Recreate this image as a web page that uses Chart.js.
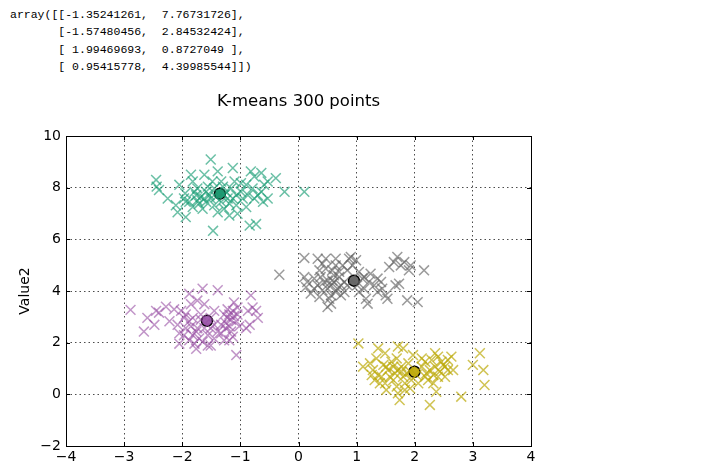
<!DOCTYPE html>
<html>
<head>
<meta charset="utf-8">
<script src="https://cdn.jsdelivr.net/npm/chart.js@4.4.1/dist/chart.umd.min.js"></script>
<style>
  body { margin: 0; background: #fff; }
  #wrap { position: relative; width: 710px; height: 470px; }
  #arr {
    position: absolute; left: 10px; top: 6px; margin: 0;
    font-family: "Liberation Mono", "DejaVu Sans Mono", monospace;
    font-size: 11.5px; line-height: 17.3px; color: #000;
  }
  canvas { position: absolute; left: 0; top: 0; }
</style>
</head>
<body>
<div id="wrap">
<pre id="arr">array([[-1.35241261,  7.76731726],
       [-1.57480456,  2.84532424],
       [ 1.99469693,  0.8727049 ],
       [ 0.95415778,  4.39985544]])</pre>
<canvas id="kmeansChart" width="710" height="470"></canvas>
</div>
<script>
// Datos de los clusters
const greenX = [-1.51, -2.45, -2.44, -2.40, -2.25, -2.11, -2.08, -1.94, -2.05, -1.97, -1.85, -1.82, -1.76, -1.71, -1.62, -1.59, -1.51, -1.45, -1.39, -1.33,
    -1.28, -1.19, -1.13, -1.10, -1.07, -1.05, -0.90, -0.82, -0.76, -0.70, -0.61, -0.64, -0.53, -0.39, -0.24, 0.10, -0.84, -0.73, -1.47, -1.79,
    -1.68, -1.88, -1.74, -1.56, -1.25, -1.22, -1.16, -0.99, -0.96, -0.87, -0.79, -0.76, -1.48, -1.39, -1.33, -1.65, -0.64, -1.74, -1.59, -1.95,
    -1.07, -1.94, -1.53, -1.45, -1.30, -1.62, -1.13, -0.99, -1.82, -0.59, -1.28, -1.42, -1.19, -0.90, -0.53];
const greenY = [9.09, 8.30, 8.04, 7.91, 7.58, 7.32, 7.05, 6.86, 8.11, 7.58, 8.50, 8.24, 7.71, 7.38, 8.50, 7.84, 7.58, 7.32, 8.63, 8.24,
    7.18, 6.92, 8.76, 8.24, 7.71, 6.99, 8.11, 8.63, 8.43, 7.71, 7.45, 8.57, 8.24, 8.37, 7.84, 7.84, 6.53, 6.59, 6.33, 7.84,
    7.64, 7.45, 7.97, 8.04, 7.84, 7.58, 7.97, 7.84, 7.58, 7.71, 7.97, 7.58, 8.24, 7.05, 7.45, 7.18, 7.84, 7.51, 7.45, 7.78,
    7.32, 7.45, 7.71, 7.97, 8.04, 7.58, 7.58, 8.17, 7.25, 8.11, 7.71, 7.64, 7.38, 7.25, 7.58];

const purpleX = [-2.89, -2.66, -2.60, -2.48, -2.45, -2.40, -2.28, -2.22, -2.14, -2.08, -2.05, -2.02, -1.97, -1.94, -1.88, -1.85, -1.88, -1.82, -1.79, -1.76,
    -1.74, -1.68, -1.65, -1.62, -1.56, -1.51, -1.45, -1.39, -1.39, -1.33, -1.28, -1.25, -1.22, -1.19, -1.16, -1.13, -1.11, -1.11, -1.07, -1.05,
    -1.13, -1.19, -1.07, -0.90, -0.84, -0.82, -0.79, -0.73, -0.70, -0.87, -2.05, -1.85, -1.76, -1.71, -1.65, -1.62, -1.45, -1.33, -1.51, -1.82,
    -1.97, -1.02, -1.05, -1.74, -1.51, -1.94, -1.28, -1.22, -1.45, -1.88, -1.68, -1.56, -1.16, -1.25, -1.19];
const purpleY = [3.27, 2.43, 2.96, 2.69, 3.23, 3.16, 3.39, 2.83, 3.29, 2.69, 2.36, 3.23, 2.96, 2.56, 3.89, 3.49, 2.83, 2.29, 1.96, 1.76,
    2.56, 3.09, 4.09, 3.49, 2.29, 2.56, 3.23, 4.03, 2.43, 2.69, 3.09, 2.56, 2.96, 3.09, 2.89, 3.23, 3.03, 3.56, 2.83, 3.09,
    2.23, 2.09, 1.52, 2.56, 2.69, 3.83, 3.36, 3.23, 2.96, 3.23, 1.96, 2.63, 2.43, 2.16, 2.03, 2.56, 2.16, 2.36, 1.89, 2.96,
    2.29, 2.63, 3.36, 3.63, 2.96, 3.09, 2.09, 3.29, 2.69, 2.09, 2.89, 1.89, 2.43, 2.76, 2.63];

const grayX = [-0.33, 0.10, 0.10, 0.15, 0.13, 0.21, 0.33, 0.36, 0.38, 0.44, 0.47, 0.50, 0.53, 0.50, 0.56, 0.58, 0.61, 0.64, 0.67, 0.70,
    0.73, 0.76, 0.79, 0.84, 0.87, 0.93, 0.99, 1.04, 1.10, 1.13, 1.16, 1.19, 1.21, 1.24, 1.30, 1.36, 1.42, 1.44, 1.50, 1.53,
    1.56, 1.64, 1.70, 1.73, 1.76, 1.82, 1.87, 1.90, 1.93, 2.05, 2.16, 0.27, 0.33, 0.41, 0.47, 0.56, 0.61, 0.64, 0.70, 0.79,
    0.84, 1.01, 1.04, 1.13, 0.50, 0.58, 0.73, 0.36, 0.90, 1.36, 1.67, 0.41, 0.56, 0.27, 0.64];
const grayY = [4.63, 5.28, 4.54, 4.35, 4.15, 3.90, 5.25, 4.80, 4.54, 4.35, 5.25, 4.09, 3.70, 3.38, 3.51, 4.80, 4.35, 5.25, 4.09, 4.54,
    3.83, 4.99, 4.35, 4.80, 5.25, 4.99, 5.19, 4.74, 4.48, 4.09, 3.70, 3.51, 4.35, 4.67, 4.22, 3.96, 4.35, 4.09, 3.83, 3.70,
    4.93, 5.12, 5.32, 4.28, 4.99, 5.12, 3.64, 4.80, 4.99, 3.57, 4.80, 4.48, 4.22, 4.03, 4.86, 4.22, 4.61, 3.96, 4.74, 3.96,
    4.22, 4.22, 3.96, 4.54, 4.41, 4.41, 4.22, 3.77, 5.32, 4.48, 4.22, 5.06, 3.83, 4.09, 4.99];

const yellowX = [1.03, 1.37, 1.49, 1.71, 1.80, 1.97, 1.11, 1.23, 1.28, 1.34, 1.37, 1.40, 1.46, 1.51, 1.54, 1.60, 1.63, 1.66, 1.71, 1.74,
    1.77, 1.83, 1.86, 1.92, 2.12, 2.18, 2.20, 2.23, 2.26, 2.29, 2.35, 2.37, 2.40, 2.43, 2.49, 2.52, 2.57, 2.63, 2.66, 2.80,
    3.00, 3.12, 3.18, 3.20, 1.57, 1.49, 1.69, 1.80, 1.89, 1.94, 2.03, 2.18, 2.26, 2.32, 2.46, 2.52, 1.71, 1.63, 1.43, 1.31,
    1.77, 2.06, 2.32, 2.12, 1.26, 1.92, 1.69, 1.51, 2.40, 2.57, 1.83, 2.35];
const yellowY = [1.97, 1.78, 1.59, 1.85, 1.78, 1.52, 1.07, 1.20, 0.94, 1.39, 0.75, 0.43, 1.14, 0.17, 0.94, 1.26, 0.55, 0.81, 0.04, -0.22,
    1.07, 0.43, 0.81, 0.23, 1.07, 1.26, 0.81, 0.55, -0.41, 1.33, 1.07, 0.10, 1.46, 0.88, 1.14, 0.68, 1.33, 1.46, 0.94, -0.09,
    1.14, 1.59, 0.94, 0.36, 0.68, 0.43, 0.30, 0.68, 1.20, 0.55, 0.75, 0.68, 0.94, 0.75, 1.26, 1.07, 0.94, 1.07, 0.68, 0.55,
    0.88, 0.43, 0.43, 1.39, 0.75, 0.88, 1.39, 1.07, 0.68, 0.94, 0.17, 1.59];

// Centroides
const centerX = [-1.35241261, -1.57480456, 1.99469693, 0.95415778];
const centerY = [7.76731726, 2.84532424, 0.8727049, 4.39985544];
const clusterColors = ['rgba(27,158,119,0.65)', 'rgba(152,78,163,0.6)', 'rgba(188,170,10,0.7)', 'rgba(102,102,102,0.65)'];
const centerColors = ['rgb(35,150,112)', 'rgb(160,95,175)', 'rgb(195,175,25)', 'rgb(105,105,105)'];

const titleText = 'K-means 300 points';
const yTitle = 'Value2';

function toPoints(xs, ys) {
    return xs.map((x, i) => ({ x: x, y: ys[i] }));
}

const clusters = [[greenX, greenY], [purpleX, purpleY], [yellowX, yellowY], [grayX, grayY]];

const datasets = clusters.map((c, i) => ({
    data: toPoints(c[0], c[1]),
    pointStyle: 'crossRot',
    pointRadius: 7,
    borderWidth: 1.5,
    borderColor: clusterColors[i],
    backgroundColor: clusterColors[i],
}));

datasets.push({
    data: toPoints(centerX, centerY),
    pointStyle: 'circle',
    pointRadius: 5.5,
    borderWidth: 1.5,
    borderColor: '#000',
    backgroundColor: centerColors,
});

// Marco, ticks hacia dentro y titulo
const framePlugin = {
    id: 'frame',
    afterDatasetsDraw(chart) {
        const ctx = chart.ctx;
        const a = chart.chartArea;
        const xs = chart.scales.x, ys = chart.scales.y;
        ctx.save();
        ctx.strokeStyle = '#000';
        ctx.lineWidth = 1;
        ctx.setLineDash([]);
        ctx.strokeRect(a.left + 0.5, a.top + 0.5, a.right - a.left, a.bottom - a.top);
        ctx.beginPath();
        xs.ticks.forEach(t => {
            const px = Math.round(xs.getPixelForValue(t.value)) + 0.5;
            ctx.moveTo(px, a.bottom); ctx.lineTo(px, a.bottom - 4);
            ctx.moveTo(px, a.top); ctx.lineTo(px, a.top + 4);
        });
        ys.ticks.forEach(t => {
            const py = Math.round(ys.getPixelForValue(t.value)) + 0.5;
            ctx.moveTo(a.left, py); ctx.lineTo(a.left + 4, py);
            ctx.moveTo(a.right, py); ctx.lineTo(a.right - 4, py);
        });
        ctx.stroke();
        ctx.restore();
    },
    afterDraw(chart) {
        const ctx = chart.ctx;
        const a = chart.chartArea;
        ctx.save();
        ctx.fillStyle = '#000';
        ctx.font = '16.5px "DejaVu Sans"';
        ctx.textAlign = 'center';
        ctx.textBaseline = 'middle';
        ctx.fillText(titleText, (a.left + a.right) / 2, 102);
        ctx.restore();
    }
};

const minus = v => String(v).replace('-', '\u2212');

const config = {
    type: 'scatter',
    data: { datasets: datasets },
    options: {
        responsive: false,
        animation: false,
        layout: { padding: { top: 136, right: 179, bottom: 0, left: 0 } },
        plugins: {
            legend: { display: false },
            tooltip: { enabled: false },
        },
        scales: {
            x: {
                type: 'linear',
                min: -4,
                max: 4,
                afterFit: s => { s.height = 24; },
                ticks: {
                    stepSize: 1,
                    padding: 3,
                    color: '#000',
                    font: { family: 'DejaVu Sans', size: 14 },
                    callback: v => minus(v),
                },
                grid: { color: 'rgba(0,0,0,0.7)', lineWidth: 1, drawTicks: false },
                border: { display: false, dash: [1.5, 3] },
            },
            y: {
                type: 'linear',
                min: -2,
                max: 10,
                afterFit: s => { s.width = 66; },
                ticks: {
                    stepSize: 2,
                    padding: 5,
                    color: '#000',
                    font: { family: 'DejaVu Sans', size: 14 },
                    callback: v => minus(v),
                },
                title: {
                    display: true,
                    text: yTitle,
                    color: '#000',
                    font: { family: 'DejaVu Sans', size: 14 },
                    padding: { top: 17, bottom: 0 },
                },
                grid: { color: 'rgba(0,0,0,0.7)', lineWidth: 1, drawTicks: false },
                border: { display: false, dash: [1.5, 3] },
            },
        },
    },
    plugins: [framePlugin],
};

const ctx = document.getElementById('kmeansChart').getContext('2d');
new Chart(ctx, config);
</script>
</body>
</html>
